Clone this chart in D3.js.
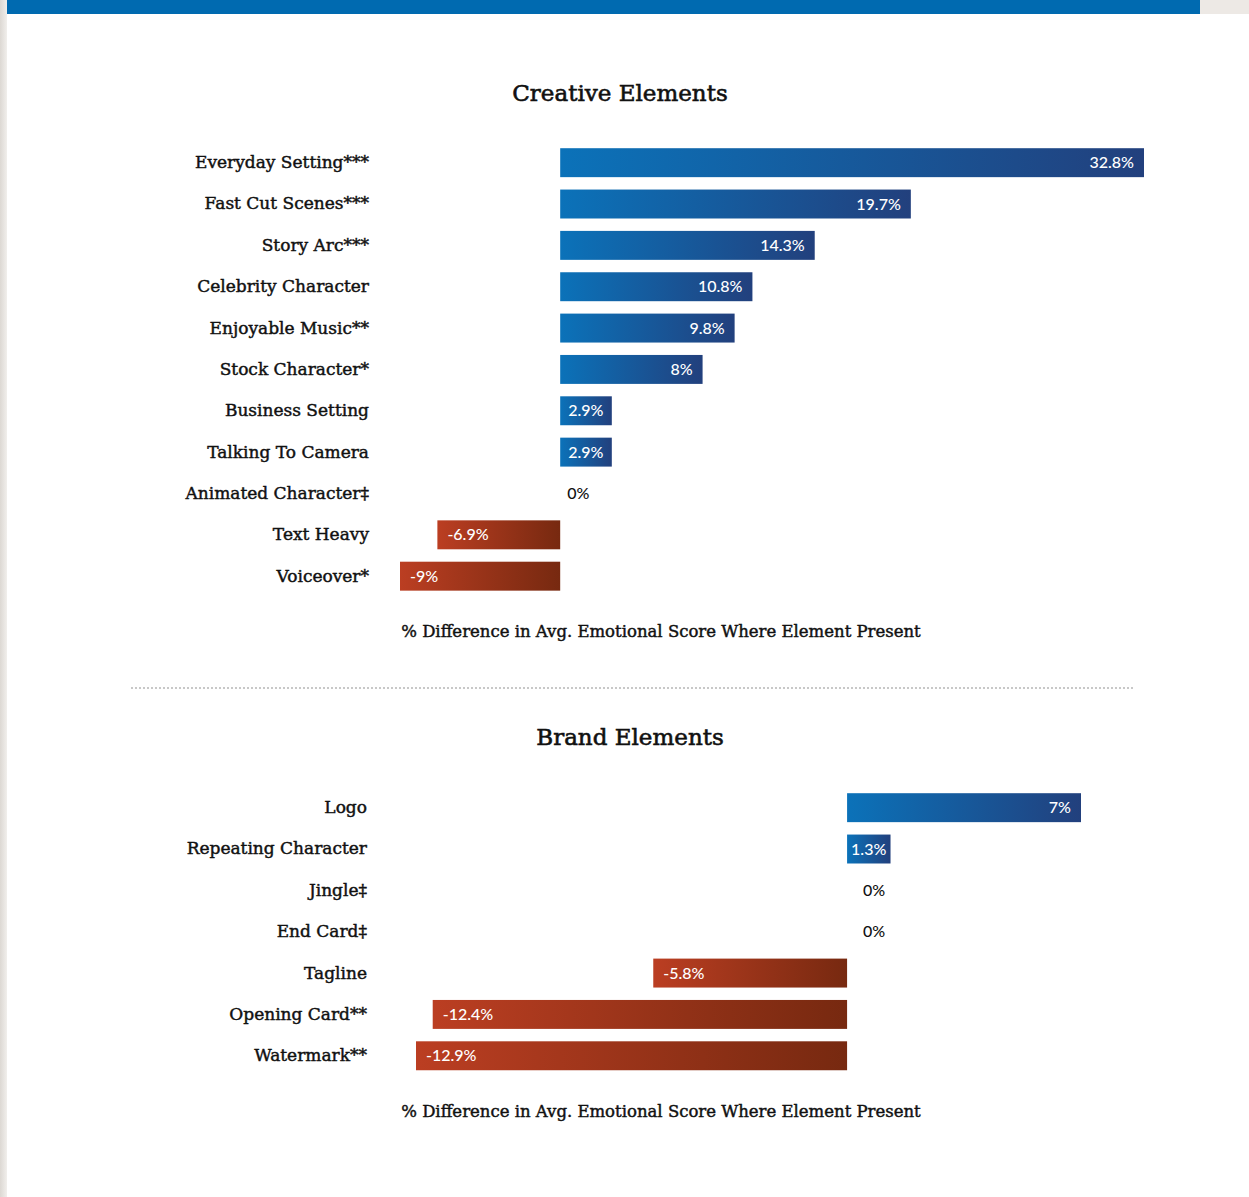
<!DOCTYPE html>
<html>
<head>
<meta charset="utf-8">
<script src="https://cdn.jsdelivr.net/npm/d3@7"></script>
<style>
  html, body { margin: 0; padding: 0; background: #fff; }
  svg { display: block; }
</style>
</head>
<body>
<svg id="chart" width="1249" height="1197"></svg>
<script>
// Creative elements: % difference in average emotional score
const creativeCategories = ["Everyday Setting***", "Fast Cut Scenes***", "Story Arc***", "Celebrity Character",
  "Enjoyable Music**", "Stock Character*", "Business Setting", "Talking To Camera", "Animated Character‡",
  "Text Heavy", "Voiceover*"];
const creativeValues = [32.8, 19.7, 14.3, 10.8, 9.8, 8, 2.9, 2.9, 0, -6.9, -9];

// Brand elements
const brandCategories = ["Logo", "Repeating Character", "Jingle‡", "End Card‡", "Tagline", "Opening Card**", "Watermark**"];
const brandValues = [7, 1.3, 0, 0, -5.8, -12.4, -12.9];

const axisTitle = "% Difference in Avg. Emotional Score Where Element Present";

const svg = d3.select("#chart");
const W = 1249, H = 1197;
const labelFont = "'DejaVu Serif', serif";
const valueFont = "Lato, 'Noto Sans', sans-serif";

// page frame
const defs = svg.append("defs");
const side = defs.append("linearGradient").attr("id", "side").attr("x1", 0).attr("x2", 1);
side.append("stop").attr("offset", 0).attr("stop-color", "#dcd8d3");
side.append("stop").attr("offset", 1).attr("stop-color", "#f1efec");
svg.append("rect").attr("x", 0).attr("y", 0).attr("width", W).attr("height", H).attr("fill", "#fff");
svg.append("rect").attr("x", 0).attr("y", 0).attr("width", 7).attr("height", H).attr("fill", "url(#side)");
svg.append("rect").attr("x", 1200).attr("y", 0).attr("width", 49).attr("height", 14).attr("fill", "#ede9e5");
svg.append("rect").attr("x", 7).attr("y", 0).attr("width", 1193).attr("height", 14).attr("fill", "#006ab0");

// bar gradients
const gPos = defs.append("linearGradient").attr("id", "gpos").attr("x1", 0).attr("x2", 1);
gPos.append("stop").attr("offset", 0).attr("stop-color", "#0b72b9");
gPos.append("stop").attr("offset", 1).attr("stop-color", "#22407d");
const gNeg = defs.append("linearGradient").attr("id", "gneg").attr("x1", 0).attr("x2", 1);
gNeg.append("stop").attr("offset", 0).attr("stop-color", "#bb3e22");
gNeg.append("stop").attr("offset", 1).attr("stop-color", "#772910");

// plain hyphen for negatives, as printed on the labels
function fmt(v) { return d3.format("~g")(v).replace("\u2212", "-") + "%"; }

function drawPanel(opts) {
  const { categories, values, title, titleX, titleY, top, xRange, labelX, axisY, zeroOffset, smallOffset } = opts;
  const g = svg.append("g");
  const data = categories.map((c, i) => ({ c, v: values[i] }));

  const x = d3.scaleLinear()
    .domain([d3.min(values), d3.max(values)])
    .range(xRange);
  const y = d3.scaleBand()
    .domain(categories)
    .range([top, top + 41.35 * categories.length])
    .paddingInner(0.3).paddingOuter(0.15);

  g.append("text")
    .attr("x", titleX).attr("y", titleY)
    .attr("text-anchor", "middle")
    .attr("font-family", labelFont)
    .attr("font-size", 23)
    .attr("fill", "#111")
    .attr("stroke", "#111").attr("stroke-width", 0.6)
    .text(title);

  // category axis on the left, drawn through d3.axisLeft without line/ticks
  const yAxis = g.append("g")
    .attr("transform", `translate(${labelX},0)`)
    .call(d3.axisLeft(y).tickSize(0).tickPadding(0));
  yAxis.select(".domain").remove();
  yAxis.selectAll("text")
    .attr("font-family", labelFont)
    .attr("font-size", 17)
    .attr("fill", "#111")
    .attr("stroke", "#111").attr("stroke-width", 0.45);

  const x0 = x(0);
  g.selectAll("rect.bar").data(data.filter(d => d.v !== 0)).join("rect")
    .attr("class", "bar")
    .attr("x", d => Math.min(x(d.v), x0))
    .attr("width", d => Math.abs(x(d.v) - x0))
    .attr("y", d => y(d.c))
    .attr("height", y.bandwidth())
    .attr("fill", d => d.v > 0 ? "url(#gpos)" : "url(#gneg)");

  g.selectAll("text.val").data(data).join("text")
    .attr("class", "val")
    .attr("y", d => y(d.c) + y.bandwidth() / 2)
    .attr("dy", "0.35em")
    .attr("font-family", valueFont)
    .attr("font-size", 16)
    .attr("font-weight", 500)
    .attr("fill", d => d.v === 0 ? "#111" : "#fff")
    .each(function (d) {
      const t = d3.select(this);
      const w = Math.abs(x(d.v) - x0);
      if (d.v === 0) t.attr("x", x0 + zeroOffset).attr("text-anchor", "start");
      else if (d.v > 0 && w < 60) t.attr("x", x0 + smallOffset).attr("text-anchor", "start");
      else if (d.v > 0) t.attr("x", x(d.v) - 10).attr("text-anchor", "end");
      else t.attr("x", x(d.v) + 10).attr("text-anchor", "start");
    })
    .text(d => fmt(d.v));

  g.append("text")
    .attr("x", 661).attr("y", axisY)
    .attr("text-anchor", "middle")
    .attr("font-family", labelFont)
    .attr("font-size", 16.5)
    .attr("fill", "#111")
    .attr("stroke", "#111").attr("stroke-width", 0.45)
    .text(axisTitle);
}

drawPanel({
  categories: creativeCategories, values: creativeValues,
  title: "Creative Elements", titleX: 620, titleY: 101,
  top: 142, xRange: [400, 1144], labelX: 369, axisY: 637,
  zeroOffset: 7, smallOffset: 8
});

svg.append("line")
  .attr("x1", 131).attr("x2", 1133).attr("y1", 688).attr("y2", 688)
  .attr("stroke", "#c8c8c8").attr("stroke-width", 2).attr("stroke-dasharray", "2,2");

drawPanel({
  categories: brandCategories, values: brandValues,
  title: "Brand Elements", titleX: 630, titleY: 745,
  top: 787, xRange: [416, 1081], labelX: 367, axisY: 1117,
  zeroOffset: 16, smallOffset: 4
});
</script>
</body>
</html>
